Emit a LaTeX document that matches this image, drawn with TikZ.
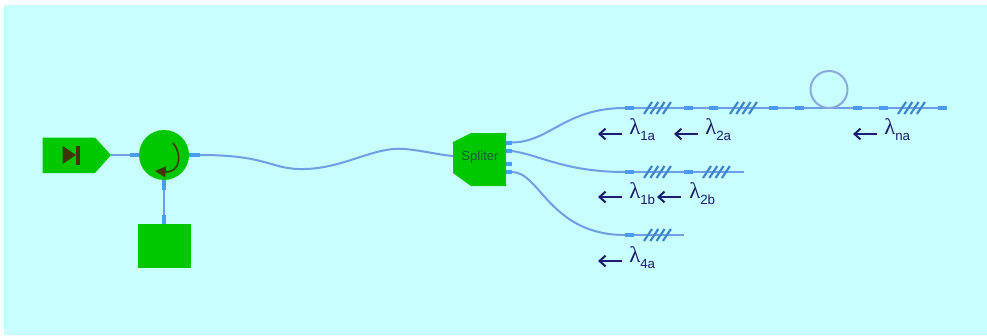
\documentclass[tikz,border=0pt]{standalone}
\usepackage{fontspec}
\setmainfont{Liberation Sans}
\newfontfamily\lamfont{Liberation Serif}
\usetikzlibrary{arrows.meta}
\definecolor{bgc}{HTML}{C8FFFF}
\definecolor{gr}{HTML}{00C800}
\definecolor{fib}{HTML}{6F9FE6}
\definecolor{port}{HTML}{4A9CF0}
\definecolor{loopc}{HTML}{8CA8DE}
\definecolor{navy}{HTML}{1C1C70}
\definecolor{dk}{HTML}{3F3500}
\definecolor{sptext}{HTML}{0A5A32}
\tikzset{
 fibre/.style={draw=fib,line width=1.5pt},
 portseg/.style={draw=port,line width=3pt},
 tick/.style={draw=port!85!black,line width=1.6pt},
 lam/.style={text=navy,inner sep=0pt,anchor=base west},
 back/.style={draw=navy,line width=1.5pt,-{Straight Barb[length=4.5pt,width=8pt,line width=1.5pt]}},
 unit/.style={fill=gr,draw=none}
}
\newcommand{\lamtext}[1]{{\fontsize{17pt}{18pt}\lamfont λ}\raisebox{-4.5pt}{\fontsize{10pt}{11pt}\selectfont #1}}
\newcommand{\grating}[2]{\foreach \k in {0,1,2,3}{\draw[tick] ({#1+\k*6.3},#2+6) -- ({#1+\k*6.3+8},#2-6);}}
\begin{document}
\begin{tikzpicture}[x=0.75pt,y=-0.75pt]
\useasboundingbox (0,0) rectangle (987,335);
\fill[bgc] (4,5) rectangle (987,335);
% fibres
\coordinate (t0) at (625,108); \coordinate (tend) at (947,108);
\coordinate (m0) at (625,172); \coordinate (mend) at (744,172);
\coordinate (b0) at (625,235); \coordinate (bend) at (684,235);
\coordinate (o1) at (512,142.5); \coordinate (o2) at (512,151); \coordinate (o3) at (512,164); \coordinate (o4) at (512,172);
\coordinate (cr) at (200,155); \coordinate (spin) at (453,156);
\draw[fibre] (o1) .. controls (550,142) and (565,108) .. (t0);
\draw[fibre] (o2) .. controls (540,155) and (565,172) .. (m0);
\draw[fibre] (o4) .. controls (540,172) and (550,235) .. (b0);
\draw[fibre] (cr) .. controls (270,155) and (270,170) .. (305,169) .. controls (345,168) and (375,146) .. (405,149) .. controls (425,151) and (440,155) .. (spin);
\draw[fibre] (t0) -- (tend);
\draw[fibre] (m0) -- (mend);
\draw[fibre] (b0) -- (bend);
\coordinate (loopc) at (829,89.5);
\draw[draw=loopc,line width=1.5pt] (loopc) circle (18.5);
% port segments
\foreach \a/\b in {625/634,684/693,709/718,769/778,795/804,853/862,879/888,938/947}{\draw[portseg] (\a,108) -- (\b,108);}
\foreach \a/\b in {625/634,684/693}{\draw[portseg] (\a,172) -- (\b,172);}
\draw[portseg] (625,235) -- (634,235);
\foreach \yy in {142.5,151,164,172}{\draw[portseg] (506,\yy) -- (512,\yy);}
% gratings
\grating{644}{108}\grating{730}{108}\grating{898}{108}
\grating{644}{172}\grating{703}{172}
\grating{644}{235}
% units
\fill[gr] (42.5,137.5) -- (95,137.5) -- (111,155) -- (95,173) -- (42.5,173) -- cycle;
\coordinate (srcout) at (111,155);
\fill[dk] (62.7,146) -- (76,155) -- (62.7,164) -- cycle;
\fill[dk] (76,146) rectangle (80,165);
\node[circle,unit,minimum size=37.5pt,inner sep=0] (circ) at (164,155) {};
\draw[dk,line width=1.2pt,-{Triangle[length=8pt,width=8pt]}] (173,143) .. controls (182,153) and (181,173) .. (155,171);
\node[unit,minimum width=39.75pt,minimum height=33pt,inner sep=0] (refl) at (164,246) {};
\draw[fibre] (srcout) -- (circ.west);
\draw[portseg] (130,155) -- (circ.west);
\draw[portseg] (circ.east) -- (200,155);
\draw[fibre] (circ.south) -- (refl.north);
\draw[portseg] (164,180) -- (164,190);
\draw[portseg] (164,215) -- (refl.north);
\fill[gr] (453,142) -- (471,133) -- (506,133) -- (506,186) -- (471,186) -- (453,173) -- cycle;
\node[font=\fontsize{9.8pt}{10pt}\selectfont,text=sptext,inner sep=0] (sp) at (480,157) {Spliter};
% labels
\foreach \nm/\ax/\lx/\ly/\ay/\txt in {a/622/629/134/134/1a,b/698/705/134/134/2a,c/877/884/134/134/na,d/622/629/198/197/1b,e/681/689/198/197/2b,f/622/629/262/261/4a}{
  \coordinate (s\nm) at (\ax,\ay);
  \coordinate (e\nm) at (\ax-24,\ay);
  \draw[back] (s\nm) -- (e\nm);
  \node[lam] (l\nm) at (\lx,\ly) {\lamtext{\txt}};
}
\end{tikzpicture}
\end{document}
